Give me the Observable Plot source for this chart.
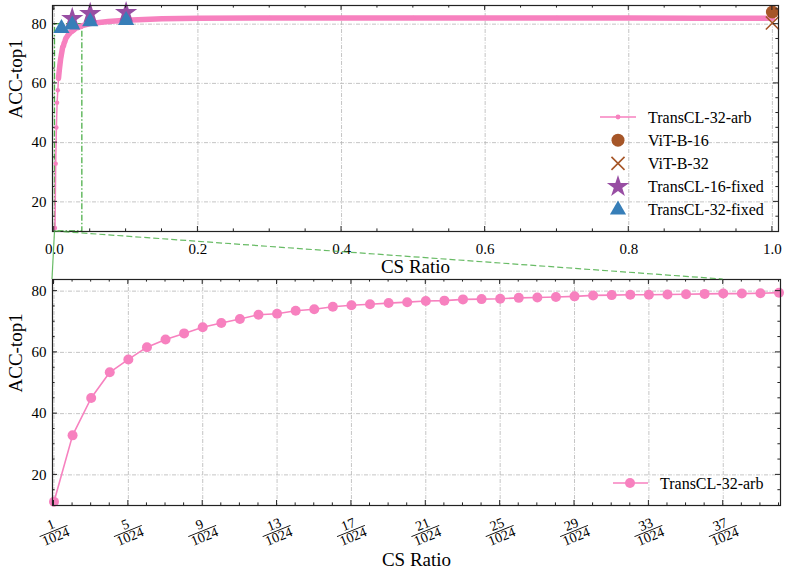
<!DOCTYPE html>
<html><head><meta charset="utf-8">
<script src="https://cdn.jsdelivr.net/npm/d3@7"></script>
<script src="https://cdn.jsdelivr.net/npm/@observablehq/plot@0.6"></script>
<style>
body{margin:0;background:#fff;}
#wrap{position:relative;width:789px;height:579px;}
#wrap svg{position:absolute;left:0;}
</style></head><body><div id="wrap"></div>
<script>
// ---- data ----
const arbNumerators = [1,2,3,4,5,6,7,8,9,10,11,12,13,14,15,16,17,18,19,20,21,22,23,24,25,26,27,28,29,30,31,32,33,34,35,36,37,38,39,40]; // CS ratio = n/1024
const arbAcc = [11.2,32.9,45.1,53.5,57.7,61.7,64.2,66.2,68.2,69.6,70.9,72.3,72.6,73.6,74.1,74.9,75.4,75.7,76.1,76.4,76.8,76.9,77.3,77.4,77.5,77.8,77.9,78.1,78.3,78.6,78.7,78.8,78.8,78.9,79.0,79.1,79.2,79.2,79.3,79.5];
const arbTailRatio = [0.05,0.075,0.1,0.15,0.2,0.3,0.4,0.5,0.6,0.7,0.8,0.9,1.0];
const arbTailAcc = [80.2,80.9,81.3,81.8,82.0,82.1,82.1,82.1,82.1,82.1,82.1,82.0,82.0];
const vitB16Ratio = [1.0], vitB16Acc = [84.1];
const vitB32Ratio = [1.0], vitB32Acc = [80.4];
const transcl16Ratio = [0.025,0.05,0.1], transcl16Acc = [81.9,83.6,83.9];
const transcl32Ratio = [0.01,0.025,0.05,0.1], transcl32Acc = [78.6,79.8,80.9,81.3];
const denominator = 1024;
const topXTicks = [0,0.2,0.4,0.6,0.8,1.0];
const topXMinor = d3.range(0,1.0001,0.05);
const yTicks = [20,40,60,80];
const yMinor = d3.range(15,86,5);
const botXTicks = [1,5,9,13,17,21,25,29,33,37];
const botXMinor = d3.range(1,41,1);
const zoomBox = {x1: arbNumerators[0]/denominator, x2: arbNumerators[arbNumerators.length-1]/denominator, y1: 10, y2: 80};
const bandFrom = 6;       // dense part of the arb curve starts here (numerator)
const insetLinkX = 37;    // where the dashed connector meets the lower panel
const legendTop = ["TransCL-32-arb","ViT-B-16","ViT-B-32","TransCL-16-fixed","TransCL-32-fixed"];

// ---- styles ----
const pink="#f781bf", green="#4daf4a", brown="#a65628", purple="#984ea3", blue="#377eb8";
const FONT = "'Liberation Serif','Times New Roman',serif";
const W = 789, TOPH = 275, BOTH = 304;
const gridStyle = {stroke:"#b5b5b5", strokeOpacity:1, strokeWidth:0.8, strokeDasharray:"4,1.5,1,1.5"};

const topData = arbNumerators.map((n,i)=>({x:n/denominator, y:arbAcc[i], n}))
  .concat(arbTailRatio.map((r,i)=>({x:r, y:arbTailAcc[i], n:r*denominator})));
const pts = (xs, ys) => xs.map((x,i)=>({x, y:ys[i]}));

const topPlot = Plot.plot({
  width: W, height: TOPH, marginTop: 5, marginBottom: 44, marginLeft: 52, marginRight: 11,
  style: {fontFamily: FONT, fontSize: "15px", background: "transparent", color: "#000"},
  x: {domain: [-0.0025, 1.0085]},
  y: {domain: [10, 86.3]},
  marks: [
    Plot.gridX(topXTicks, gridStyle),
    Plot.gridY(yTicks, gridStyle),
    Plot.rect([zoomBox], {x1:"x1", x2:"x2", y1:"y1", y2:"y2", fill:"none", stroke:green, strokeWidth:1.3, strokeDasharray:"6,2,1.5,2"}),
    Plot.line(topData, {x:"x", y:"y", stroke:pink, strokeWidth:1.5}),
    Plot.line(topData.filter(d=>d.n>=bandFrom), {x:"x", y:"y", stroke:pink, strokeWidth:5.5, strokeLinecap:"round", strokeLinejoin:"round"}),
    Plot.dot(topData, {x:"x", y:"y", r:2.2, fill:pink}),
    Plot.dot(pts(vitB16Ratio, vitB16Acc), {x:"x", y:"y", r:6.5, fill:brown}),
    Plot.dot(pts(vitB32Ratio, vitB32Acc), {x:"x", y:"y", r:6, symbol:"times", stroke:brown, fill:"none", strokeWidth:1.6}),
    Plot.dot(pts(transcl16Ratio, transcl16Acc), {x:"x", y:"y", r:7, symbol:"star", fill:purple}),
    Plot.dot(pts(transcl32Ratio, transcl32Acc), {x:"x", y:"y", r:6, symbol:"triangle", fill:blue}),
    Plot.frame({stroke:"#222", strokeWidth:1.2}),
    Plot.axisX(topXTicks, {tickSize:0, tickPadding:12, tickFormat:d3.format(".1f"), label:null, fontSize:15}),
    Plot.axisY(yTicks, {tickSize:0, tickPadding:6, label:null, fontSize:15}),
    Plot.text(["CS Ratio"], {frameAnchor:"bottom", dy:41, fontSize:19, fill:"#000"}),
    Plot.text(["ACC-top1"], {frameAnchor:"left", dx:-37, rotate:-90, fontSize:19, fill:"#000"})
  ]
});

const botData = arbNumerators.map((n,i)=>({x:n, y:arbAcc[i]}));
const botPlot = Plot.plot({
  width: W, height: BOTH, marginTop: 4, marginBottom: 74, marginLeft: 52, marginRight: 9,
  style: {fontFamily: FONT, fontSize: "15px", background: "transparent", color: "#000"},
  x: {domain: [0.92, 40.08], axis: null},
  y: {domain: [10, 83.8]},
  marks: [
    Plot.gridX(botXTicks, gridStyle),
    Plot.gridY(yTicks, gridStyle),
    Plot.line(botData, {x:"x", y:"y", stroke:pink, strokeWidth:1.6}),
    Plot.dot(botData, {x:"x", y:"y", r:5, fill:pink}),
    Plot.frame({stroke:"#222", strokeWidth:1.2}),
    Plot.axisY(yTicks, {tickSize:0, tickPadding:6, label:null, fontSize:15}),
    Plot.text(["CS Ratio"], {frameAnchor:"bottom", dy:60, fontSize:19, fill:"#000"}),
    Plot.text(["ACC-top1"], {frameAnchor:"left", dx:-37, rotate:-90, fontSize:19, fill:"#000"})
  ]
});

function addTicks(plot, xMajor, xMinor, yMajor, yMinor) {
  const sx = plot.scale("x"), sy = plot.scale("y");
  const [xl, xr] = sx.range, [yb, yt] = sy.range;
  const g = d3.select(plot).append("g").attr("stroke","#222").attr("stroke-width",1);
  const majX = new Set(xMajor.map(v=>+v.toFixed(6))), majY = new Set(yMajor);
  const xs = [...xMajor.map(v=>[v,5]), ...xMinor.filter(v=>!majX.has(+v.toFixed(6))).map(v=>[v,2.6])];
  const ys = [...yMajor.map(v=>[v,5]), ...yMinor.filter(v=>!majY.has(v)).map(v=>[v,2.6])];
  for (const [v,len] of xs) {
    const x = sx.apply(v);
    if (x < xl-0.5 || x > xr+0.5) continue;
    g.append("line").attr("x1",x).attr("x2",x).attr("y1",yb).attr("y2",yb-len);
    g.append("line").attr("x1",x).attr("x2",x).attr("y1",yt).attr("y2",yt+len);
  }
  for (const [v,len] of ys) {
    const y = sy.apply(v);
    if (y > yb+0.5 || y < yt-0.5) continue;
    g.append("line").attr("x1",xl).attr("x2",xl+len).attr("y1",y).attr("y2",y);
    g.append("line").attr("x1",xr).attr("x2",xr-len).attr("y1",y).attr("y2",y);
  }
}
addTicks(topPlot, topXTicks, topXMinor, yTicks, yMinor);
addTicks(botPlot, botXTicks, botXMinor, yTicks, yMinor);

// fraction tick labels on the lower panel
{
  const sx = botPlot.scale("x"), sy = botPlot.scale("y");
  const yb = sy.range[0];
  const g = d3.select(botPlot).append("g").attr("font-family",FONT).attr("font-size",14).attr("fill","#000").attr("text-anchor","middle");
  for (const n of botXTicks) {
    const gg = g.append("g").attr("transform",`translate(${sx.apply(n)},${yb+26}) rotate(-22)`);
    gg.append("text").attr("y",-2.5).text(n);
    gg.append("line").attr("x1",-15).attr("x2",15).attr("y1",0).attr("y2",0).attr("stroke","#000").attr("stroke-width",0.9);
    gg.append("text").attr("y",10.5).text(denominator);
  }
}

// legends
const sym = (type, r) => d3.symbol().type(type).size(Math.PI*r*r)();
{
  const g = d3.select(topPlot).append("g").attr("font-family",FONT).attr("font-size",16).attr("text-anchor","start");
  const cx = 618;
  legendTop.forEach((label,i)=>{
    const y = 117 + i*23.2;
    if (i===0) {
      g.append("line").attr("x1",600).attr("x2",636).attr("y1",y).attr("y2",y).attr("stroke",pink).attr("stroke-width",1.6);
      g.append("circle").attr("cx",cx).attr("cy",y).attr("r",2.4).attr("fill",pink);
    } else if (i===1) {
      g.append("circle").attr("cx",cx).attr("cy",y).attr("r",6.5).attr("fill",brown);
    } else if (i===2) {
      g.append("path").attr("transform",`translate(${cx},${y})`).attr("d",sym(d3.symbolTimes||d3.symbolX,6)).attr("fill","none").attr("stroke",brown).attr("stroke-width",1.6);
    } else if (i===3) {
      g.append("path").attr("transform",`translate(${cx},${y})`).attr("d",sym(d3.symbolStar,7)).attr("fill",purple);
    } else {
      g.append("path").attr("transform",`translate(${cx},${y})`).attr("d",sym(d3.symbolTriangle,6)).attr("fill",blue);
    }
    g.append("text").attr("x",648).attr("y",y).attr("dy","0.35em").attr("fill","#000").text(label);
  });
}
{
  const g = d3.select(botPlot).append("g").attr("font-family",FONT).attr("font-size",16).attr("text-anchor","start");
  const y = 483 - TOPH;
  g.append("line").attr("x1",613).attr("x2",648).attr("y1",y).attr("y2",y).attr("stroke",pink).attr("stroke-width",1.6);
  g.append("circle").attr("cx",630).attr("cy",y).attr("r",5).attr("fill",pink);
  g.append("text").attr("x",660).attr("y",y).attr("dy","0.35em").attr("fill","#000").text(legendTop[0]);
}

const wrap = document.getElementById("wrap");
topPlot.style.top = "0px";
botPlot.style.top = TOPH + "px";
wrap.appendChild(topPlot);
wrap.appendChild(botPlot);

// connectors between zoom box and lower panel
{
  const tx = topPlot.scale("x"), ty = topPlot.scale("y");
  const bx = botPlot.scale("x"), by = botPlot.scale("y");
  const sx0 = tx.apply(zoomBox.x1), sy0 = ty.apply(zoomBox.y1);
  const topEdge = TOPH + by.range[1];
  const ov = d3.select(wrap).append("svg").attr("width",W).attr("height",579).style("top","0px").style("pointer-events","none");
  ov.append("line").attr("x1",sx0).attr("y1",sy0).attr("x2",bx.range[0]).attr("y2",topEdge)
    .attr("stroke",green).attr("stroke-width",1.2).attr("stroke-opacity",0.85);
  ov.append("line").attr("x1",sx0).attr("y1",sy0).attr("x2",bx.apply(insetLinkX)).attr("y2",topEdge)
    .attr("stroke",green).attr("stroke-width",1.2).attr("stroke-dasharray","6,3").attr("stroke-opacity",0.85);
}
</script></body></html>
